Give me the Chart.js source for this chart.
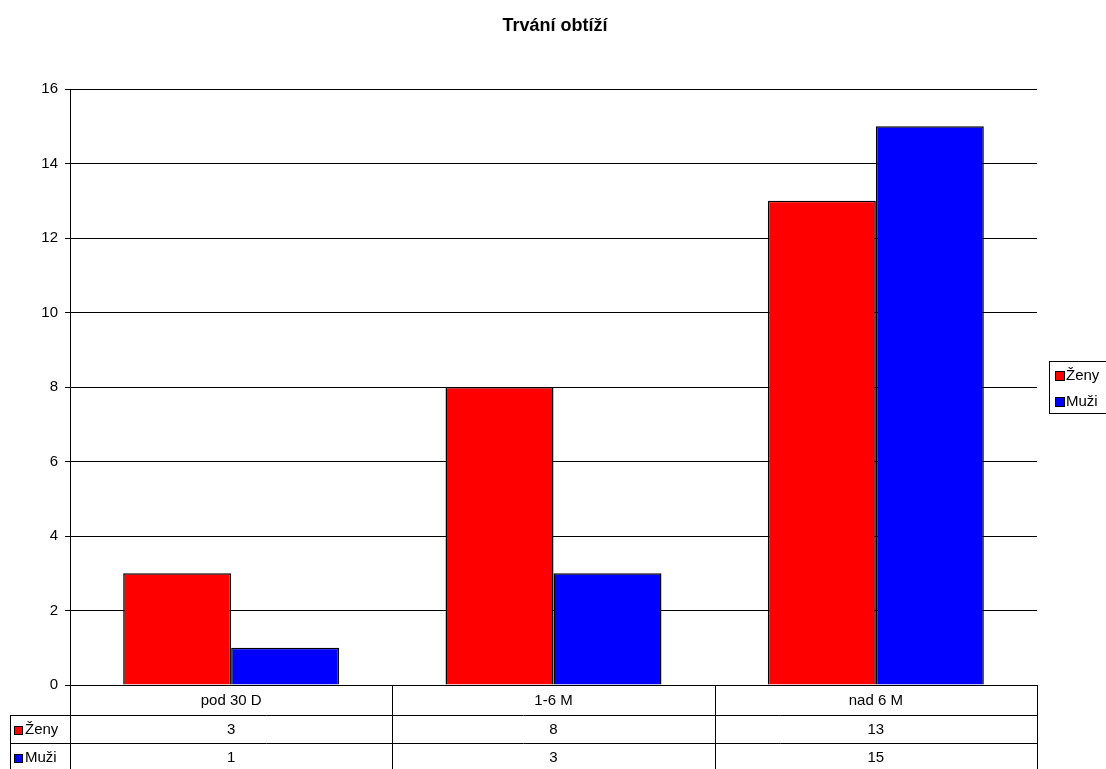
<!DOCTYPE html>
<html>
<head>
<meta charset="utf-8">
<script src="https://cdn.jsdelivr.net/npm/chart.js@4"></script>
<style>
  html, body { margin: 0; padding: 0; background: #fff; }
  #wrap { width: 1106px; height: 769px; position: relative; }
</style>
</head>
<body>
<div id="wrap"><canvas id="c" width="1106" height="769"></canvas></div>
<script>
// Chart content
const chartTitle = 'Trvání obtíží';
const categories = ['pod 30 D', '1-6 M', 'nad 6 M'];
const seriesNames = ['Ženy', 'Muži'];
const zenyValues = [3, 8, 13];
const muziValues = [1, 3, 15];
const seriesColors = ['#FF0000', '#0000FF'];
const yMin = 0;
const yMax = 16;
const yStep = 2;

const FONT = '"Liberation Sans", Arial, sans-serif';

// Title, data table under the plot and the boxed legend on the right
const decorations = {
  id: 'decorations',
  afterDraw(chart) {
    const ctx = chart.ctx;
    const area = chart.chartArea;
    const xs = chart.scales.x;
    const datasets = chart.data.datasets;
    ctx.save();

    // title
    ctx.fillStyle = '#000';
    ctx.font = 'bold 18px ' + FONT;
    ctx.textAlign = 'center';
    ctx.textBaseline = 'middle';
    ctx.fillText(chartTitle, 555, 26);

    // column edges of the data table follow the category scale
    const n = categories.length;
    const centers = categories.map((_, i) => xs.getPixelForValue(i));
    const step = n > 1 ? centers[1] - centers[0] : area.right - area.left;
    const edges = [centers[0] - step / 2];
    centers.forEach(c => edges.push(c + step / 2));

    const rowTops = [area.bottom, area.bottom + 30, area.bottom + 58, area.bottom + 86];
    const keyLeft = 10;

    ctx.strokeStyle = '#000';
    ctx.lineWidth = 1;
    const hline = (x1, x2, y) => {
      ctx.beginPath();
      ctx.moveTo(x1, Math.round(y) + 0.5);
      ctx.lineTo(x2, Math.round(y) + 0.5);
      ctx.stroke();
    };
    const vline = (x, y1, y2) => {
      ctx.beginPath();
      ctx.moveTo(Math.round(x) + 0.5, y1);
      ctx.lineTo(Math.round(x) + 0.5, y2);
      ctx.stroke();
    };
    hline(keyLeft, edges[n], rowTops[1]);
    hline(keyLeft, edges[n], rowTops[2]);
    hline(keyLeft, edges[n], rowTops[3]);
    edges.forEach(x => vline(x, rowTops[0], rowTops[3]));
    vline(keyLeft, rowTops[1], rowTops[3]);

    ctx.font = '15px ' + FONT;
    ctx.textBaseline = 'middle';
    ctx.textAlign = 'center';
    ctx.fillStyle = '#000';
    categories.forEach((c, i) => {
      ctx.fillText(c, centers[i], (rowTops[0] + rowTops[1]) / 2 + 1);
    });
    datasets.forEach((ds, r) => {
      const cy = (rowTops[r + 1] + rowTops[r + 2]) / 2 + 1;
      ds.data.forEach((v, i) => {
        ctx.textAlign = 'center';
        ctx.fillText(String(v), centers[i], cy);
      });
      // series key in the row header
      ctx.fillStyle = ds.backgroundColor;
      ctx.fillRect(14, Math.round(cy) - 4, 9, 9);
      ctx.strokeRect(14.5, Math.round(cy) - 3.5, 8, 8);
      ctx.fillStyle = '#000';
      ctx.textAlign = 'left';
      ctx.fillText(ds.label, 25, cy);
    });

    // legend box
    const lx = 1049, ly = 361, lw = 70, lh = 52;
    ctx.strokeRect(lx + 0.5, ly + 0.5, lw, lh);
    datasets.forEach((ds, r) => {
      const cy = ly + 14 + r * 26;
      ctx.fillStyle = ds.backgroundColor;
      ctx.fillRect(1055, Math.round(cy) - 4, 10, 10);
      ctx.strokeRect(1055.5, Math.round(cy) - 3.5, 9, 9);
      ctx.fillStyle = '#000';
      ctx.textAlign = 'left';
      ctx.fillText(ds.label, 1066, cy + 1);
    });

    ctx.restore();
  }
};

new Chart(document.getElementById('c'), {
  type: 'bar',
  data: {
    labels: categories,
    datasets: [
      { label: seriesNames[0], data: zenyValues, backgroundColor: seriesColors[0] },
      { label: seriesNames[1], data: muziValues, backgroundColor: seriesColors[1] }
    ]
  },
  options: {
    responsive: false,
    animation: false,
    devicePixelRatio: 1,
    layout: { padding: { top: 89, right: 69, bottom: 0, left: 0 } },
    datasets: {
      bar: {
        borderColor: '#000',
        borderWidth: 1.5,
        categoryPercentage: 0.67,
        barPercentage: 1.0
      }
    },
    plugins: {
      legend: { display: false },
      title: { display: false },
      tooltip: { enabled: false }
    },
    scales: {
      x: {
        ticks: { display: false },
        grid: { display: false, drawTicks: false },
        border: { display: true, color: '#000', width: 1 },
        afterFit(scale) { scale.height = 84; }
      },
      y: {
        min: yMin,
        max: yMax,
        ticks: {
          stepSize: yStep,
          color: '#000',
          padding: 7,
          font: { family: FONT, size: 15 }
        },
        grid: { color: '#000', lineWidth: 1, tickLength: 5, tickColor: '#000' },
        border: { display: true, color: '#000', width: 1 },
        afterFit(scale) { scale.width = 70; }
      }
    }
  },
  plugins: [decorations]
});
</script>
</body>
</html>
